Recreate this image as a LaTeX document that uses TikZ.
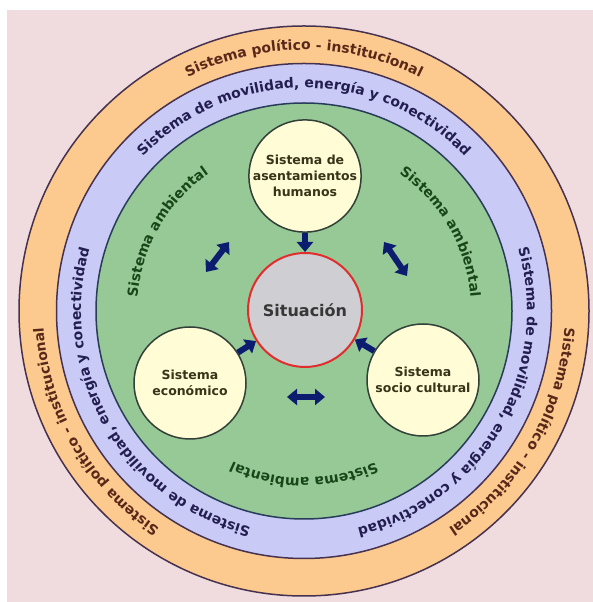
\documentclass[tikz,border=0pt]{standalone}
\usepackage{fontspec}
\setmainfont{DejaVu Sans}
\usepackage{tikz}
\usetikzlibrary{arrows.meta}
\usetikzlibrary{decorations.text}

\definecolor{sfondo}{RGB}{240,220,223}
\definecolor{arancio}{RGB}{252,202,142}
\definecolor{lilla}{RGB}{202,202,246}
\definecolor{verde}{RGB}{150,201,150}
\definecolor{crema}{RGB}{255,252,214}
\definecolor{grigio}{RGB}{206,206,211}
\definecolor{rosso}{RGB}{225,45,45}
\definecolor{blu}{RGB}{12,28,110}
\definecolor{bordo}{RGB}{70,50,80}
\definecolor{bordoverde}{RGB}{40,60,90}
\definecolor{bordonodo}{RGB}{50,65,55}
\definecolor{txtarancio}{RGB}{90,40,25}
\definecolor{txtlilla}{RGB}{35,30,80}
\definecolor{txtverde}{RGB}{25,70,25}
\definecolor{txtnodo}{RGB}{55,52,25}
\definecolor{txtsit}{RGB}{55,55,55}

\newcommand{\anellofont}{\fontsize{14}{14}\selectfont\bfseries}

\tikzset{
	sistema/.style={circle, draw=bordonodo, fill=crema, line width=1.5pt,
		minimum size=112pt, inner sep=0pt, align=center, text=txtnodo,
		font=\fontsize{12.5}{16}\selectfont\bfseries},
	situazione/.style={sistema, draw=rosso, fill=grigio, line width=2pt,
		minimum size=114pt, text=txtsit, font=\fontsize{16}{18}\selectfont\bfseries},
	freccia/.style={draw=blu, line width=6pt, -{Triangle[length=10pt,width=16pt]}},
	doppia/.style={draw=blu, line width=6pt,
		{Triangle[length=10pt,width=16pt]}-{Triangle[length=10pt,width=16pt]}},
}

\begin{document}
\begin{tikzpicture}[x=1pt,y=1pt]
		\useasboundingbox (0,0) rectangle (593,602);
		\fill[white] (0,0) rectangle (593,602);
		\fill[sfondo] (7,0) rectangle (593,592);
		
		%ANELLI
		\coordinate (c) at (304,291);
		\draw[bordo, line width=1.5pt, fill=arancio] (c) circle (285);
		\draw[bordo, line width=1.5pt, fill=lilla] (c) circle (247.5);
		\draw[bordoverde, line width=1.5pt, fill=verde] (c) circle (208);
		
		%TESTI SUGLI ANELLI
		\path[decorate, decoration={text along path, text align=center, text color=txtarancio,
			text={|\anellofont|Sistema político - institucional}}]
			(c) ++(160:261) arc[start angle=160, end angle=20, radius=261];
		\path[decorate, decoration={text along path, text align=center, text color=txtarancio,
			text={|\anellofont|Sistema político - institucional}}]
			(c) ++(40:261) arc[start angle=40, end angle=-100, radius=261];
		\path[decorate, decoration={text along path, text align=center, text color=txtarancio,
			text={|\anellofont|Sistema político - institucional}}]
			(c) ++(280:261) arc[start angle=280, end angle=140, radius=261];
		
		\path[decorate, decoration={text along path, text align=center, text color=txtlilla,
			text={|\anellofont|Sistema de movilidad, energía y conectividad}}]
			(c) ++(165:223) arc[start angle=165, end angle=15, radius=223];
		\path[decorate, decoration={text along path, text align=center, text color=txtlilla,
			text={|\anellofont|Sistema de movilidad, energía y conectividad}}]
			(c) ++(45:223) arc[start angle=45, end angle=-105, radius=223];
		\path[decorate, decoration={text along path, text align=center, text color=txtlilla,
			text={|\anellofont|Sistema de movilidad, energía y conectividad}}]
			(c) ++(285:223) arc[start angle=285, end angle=135, radius=223];
		
		\path[decorate, decoration={text along path, text align=center, text color=txtverde,
			text={|\anellofont|Sistema ambiental}}]
			(c) ++(210:167) arc[start angle=210, end angle=90, radius=167];
		\path[decorate, decoration={text along path, text align=center, text color=txtverde,
			text={|\anellofont|Sistema ambiental}}]
			(c) ++(90:167) arc[start angle=90, end angle=-30, radius=167];
		\path[decorate, decoration={text along path, text align=center, text color=txtverde,
			text={|\anellofont|Sistema ambiental}}]
			(c) ++(330:167) arc[start angle=330, end angle=210, radius=167];
		
		%NODI
		\node[situazione] (sit) at (305,292) {Situación};
		\node[sistema] (hum) at (305,426) {Sistema de\\asentamientos\\humanos};
		\node[sistema] (eco) at (190,219) {Sistema\\económico};
		\node[sistema] (soc) at (423,222) {Sistema\\socio cultural};
		
		%FRECCE
		\draw[freccia] (hum) -- (sit);
		\draw[freccia] (eco) -- (sit);
		\draw[freccia] (soc) -- (sit);
		
		\coordinate (sx1) at (206,330);
		\coordinate (sx2) at (229,360);
		\coordinate (dx1) at (384,360);
		\coordinate (dx2) at (407,326);
		\coordinate (gi1) at (287,205);
		\coordinate (gi2) at (325,205);
		\draw[doppia] (sx1) -- (sx2);
		\draw[doppia] (dx1) -- (dx2);
		\draw[doppia] (gi1) -- (gi2);
		
	\end{tikzpicture}
\end{document}
